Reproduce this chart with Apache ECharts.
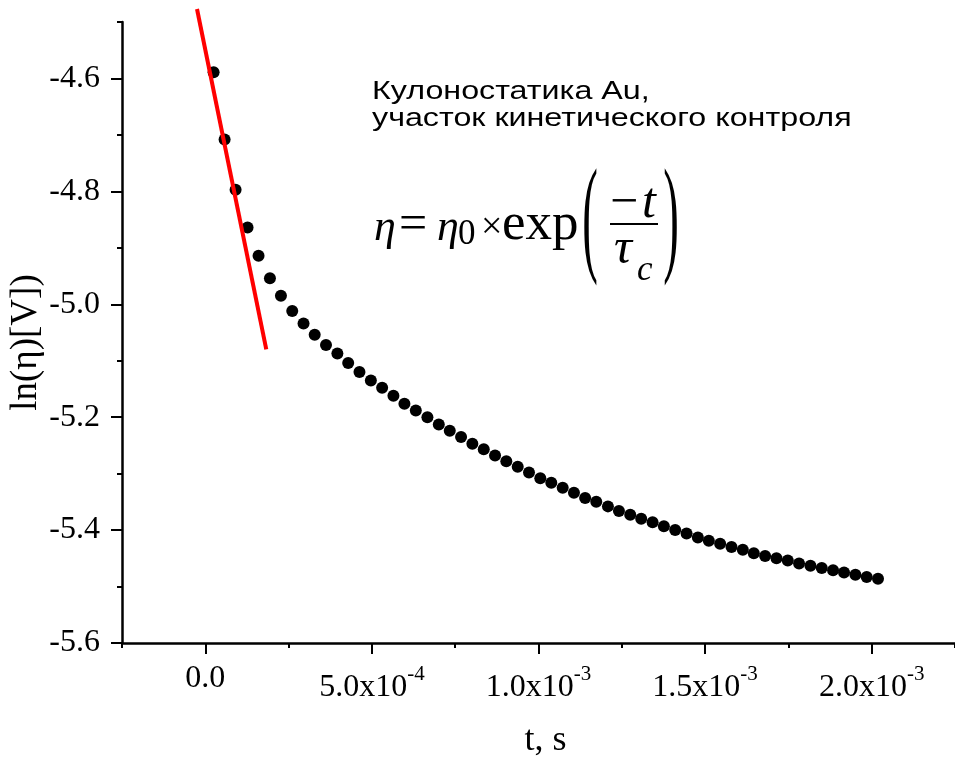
<!DOCTYPE html>
<html>
<head>
<meta charset="utf-8">
<title>Кулоностатика Au</title>
<script src="https://cdn.jsdelivr.net/npm/echarts@6/dist/echarts.min.js"></script>
<style>
  html, body { margin: 0; padding: 0; background: #fff; }
  #chart { width: 955px; height: 759px; }
</style>
</head>
<body>
<div id="chart"></div>
<script>
// время, с
var tSec = [2.49e-5, 5.79e-5, 9.09e-5, 1.268e-4, 1.598e-4, 1.940e-4, 2.270e-4, 2.609e-4, 2.948e-4, 3.283e-4,
  3.622e-4, 3.964e-4, 4.288e-4, 4.627e-4, 4.969e-4, 5.307e-4, 5.646e-4, 5.976e-4, 6.318e-4, 6.666e-4,
  7.008e-4, 7.337e-4, 7.676e-4, 8.015e-4, 8.357e-4, 8.696e-4, 9.034e-4, 9.376e-4, 9.715e-4, 1.0054e-3,
  1.0384e-3, 1.0726e-3, 1.1064e-3, 1.1400e-3, 1.1733e-3, 1.2084e-3, 1.2414e-3, 1.2753e-3, 1.3082e-3, 1.3424e-3,
  1.3763e-3, 1.4102e-3, 1.4444e-3, 1.4783e-3, 1.5112e-3, 1.5451e-3, 1.5793e-3, 1.6132e-3, 1.6462e-3, 1.6801e-3,
  1.7142e-3, 1.7481e-3, 1.7820e-3, 1.8162e-3, 1.8501e-3, 1.8840e-3, 1.9170e-3, 1.9511e-3, 1.9850e-3, 2.0189e-3]
// ln(eta), V
var lnEta = [-4.589, -4.708, -4.797, -4.864, -4.914, -4.954, -4.985, -5.012, -5.034, -5.054,
  -5.072, -5.087, -5.104, -5.120, -5.135, -5.148, -5.162, -5.176, -5.188, -5.200,
  -5.213, -5.224, -5.235, -5.247, -5.257, -5.268, -5.278, -5.288, -5.298, -5.308,
  -5.316, -5.325, -5.334, -5.343, -5.350, -5.358, -5.366, -5.373, -5.380, -5.386,
  -5.393, -5.400, -5.406, -5.413, -5.419, -5.424, -5.430, -5.435, -5.441, -5.446,
  -5.450, -5.454, -5.459, -5.463, -5.467, -5.471, -5.475, -5.479, -5.483, -5.486]
// линейный участок (красная прямая)
var fitT = [-2.49e-5, 1.83e-4]
var fitLn = [-4.477, -5.080]
// подписи осей
var xTicks = [0, 5e-4, 1e-3, 1.5e-3, 2e-3]
var yTicks = [-5.6, -5.4, -5.2, -5.0, -4.8, -4.6]

var serif = '"Liberation Serif", "Times New Roman", serif'

function xLabel(v) {
  if (Math.abs(v) < 1e-12) return '{z|0.0}'
  var e = Math.floor(Math.log10(v) + 1e-9)
  var m = (v / Math.pow(10, e)).toFixed(1)
  return '{n|' + m + 'x10}{s|' + e + '}'
}

var points = tSec.map(function(t, i) { return [t, lnEta[i]] })
var fitLine = fitT.map(function(t, i) { return [t, fitLn[i]] })

// формула — отдельные текстовые элементы
function txt(x, y, text, size, italic) {
  return {
    type: 'text', x: x, y: y, z: 10,
    style: {
      text: text,
      font: (italic ? 'italic ' : '') + size + 'px ' + serif,
      fill: '#000', align: 'left', verticalAlign: 'middle'
    }
  }
}
function paren(x, text) {
  return {
    type: 'text', x: x, y: 224, scaleX: 0.36, z: 10,
    style: { text: text, font: '130px ' + serif, fill: '#000', align: 'center', verticalAlign: 'middle' }
  }
}

var option = {
  backgroundColor: '#fff',
  animation: false,
  grid: { left: 122, right: 0, top: 22, bottom: 116, containLabel: false, outerBoundsMode: 'none' },
  xAxis: [
    {
      type: 'value', position: 'bottom',
      min: -2.5e-4, max: 2.25e-3, interval: 2.5e-4,
      name: 't, s', nameLocation: 'middle', nameGap: 80,
      nameTextStyle: { fontFamily: serif, fontSize: 36, color: '#000', padding: [0, 0, 0, 14] },
      axisLine: { show: true, onZero: false, lineStyle: { color: '#000', width: 2.5 } },
      axisTick: { show: true, inside: false, length: 5, lineStyle: { color: '#000', width: 2 } },
      axisLabel: { show: false },
      splitLine: { show: false }
    },
    {
      type: 'value', position: 'bottom',
      min: -2.5e-4, max: 2.25e-3,
      axisLine: { show: false, onZero: false },
      axisTick: { show: true, length: 11, customValues: xTicks, lineStyle: { color: '#000', width: 2 } },
      axisLabel: {
        show: true, margin: 21, customValues: xTicks, formatter: xLabel,
        rich: {
          z: { fontFamily: serif, fontSize: 32, lineHeight: 30, color: '#000' },
          n: { fontFamily: serif, fontSize: 32, lineHeight: 48, color: '#000' },
          s: { fontFamily: serif, fontSize: 21, lineHeight: 22, verticalAlign: 'top', color: '#000' }
        }
      },
      splitLine: { show: false }
    }
  ],
  yAxis: [
    {
      type: 'value', position: 'left',
      min: -5.6, max: -4.5, interval: 0.1,
      name: 'ln(η)[V])', nameLocation: 'middle', nameGap: 77, nameRotate: 90,
      nameTextStyle: { fontFamily: serif, fontSize: 37, color: '#000', padding: [0, 20, 0, 0] },
      axisLine: { show: true, onZero: false, lineStyle: { color: '#000', width: 2.5 } },
      axisTick: { show: true, inside: false, length: 5, lineStyle: { color: '#000', width: 2 } },
      axisLabel: { show: false },
      splitLine: { show: false }
    },
    {
      type: 'value', position: 'left',
      min: -5.6, max: -4.5,
      axisLine: { show: false, onZero: false },
      axisTick: { show: true, length: 11, customValues: yTicks, lineStyle: { color: '#000', width: 2 } },
      axisLabel: {
        show: true, margin: 22, customValues: yTicks,
        fontFamily: serif, fontSize: 32, color: '#000',
        formatter: function(v) { return v.toFixed(1) }
      },
      splitLine: { show: false }
    }
  ],
  series: [
    {
      name: 'data', type: 'scatter', xAxisIndex: 0, yAxisIndex: 0,
      symbol: 'circle', symbolSize: 12,
      itemStyle: { color: '#000', opacity: 1 },
      data: points
    },
    {
      name: 'fit', type: 'line', xAxisIndex: 0, yAxisIndex: 0,
      symbol: 'none', clip: false,
      lineStyle: { color: '#ff0000', width: 4 },
      data: fitLine
    }
  ],
  graphic: [
    {
      type: 'text', x: 372, y: 78, scaleX: 1.29, z: 10,
      style: {
        text: 'Кулоностатика Au,\nучасток кинетического контроля',
        font: '25px "Liberation Sans", Arial, sans-serif',
        lineHeight: 27.5, fill: '#000', align: 'left', verticalAlign: 'top'
      }
    },
    txt(374, 228, 'η', 44, true),
    txt(399, 226, '=', 50, false),
    txt(437, 228, 'η', 44, true),
    txt(458, 235, '0', 35, false),
    txt(481, 228, '×', 38, false),
    txt(502, 225, 'exp', 53, false),
    paren(590, '('),
    txt(610, 204, '−', 50, false),
    txt(642, 204, 't', 50, true),
    {
      type: 'line', z: 10,
      shape: { x1: 610, y1: 224, x2: 658, y2: 224 },
      style: { stroke: '#000', lineWidth: 2 }
    },
    txt(614, 250, 'τ', 50, true),
    txt(637, 271, 'c', 35, true),
    paren(671, ')')
  ]
}

var myChart = echarts.init(document.getElementById('chart'), null, { renderer: 'canvas' })
myChart.setOption(option)
</script>
</body>
</html>
